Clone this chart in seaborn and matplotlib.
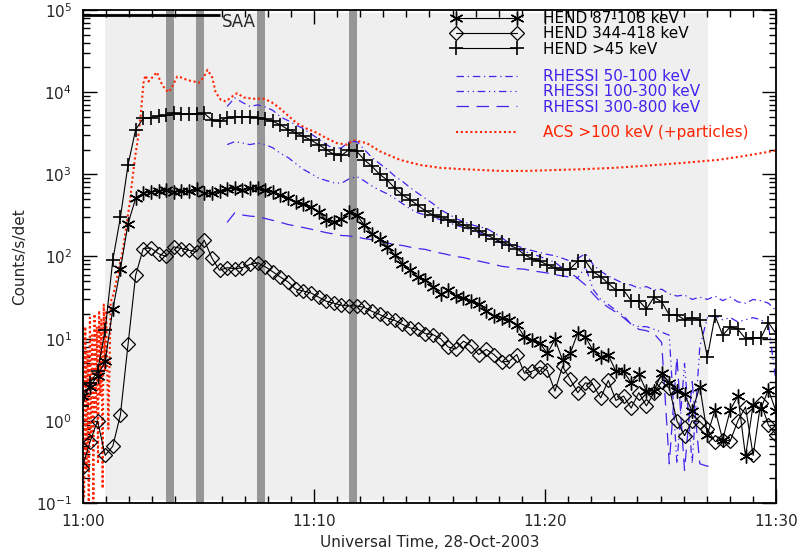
import numpy as np
import matplotlib
matplotlib.use("Agg")
import matplotlib.pyplot as plt
import seaborn as sns
from matplotlib.lines import Line2D
from matplotlib.ticker import MultipleLocator, FixedLocator, NullFormatter

# --------------------------------------------------
# THEME
# --------------------------------------------------
sns.set_style("ticks")
plt.rcParams['font.family'] = ['DejaVu Sans']
plt.rcParams['mathtext.fontset'] = 'dejavusans'

BLUE = '#4422ee'
RED = '#ff2200'

# --------------------------------------------------
# DATA  (time in minutes after 11:00 UT, counts/s/det)
# --------------------------------------------------
hend_start = -0.03   # first HEND sample
hend_step = 0.33     # HEND cadence (min)
n_hend = 92

hend_87_108 = [2.0, 2.6, 3.5, 5.3, 22.7, 70, 250, 510, 585, 610,
               620, 640, 610, 620, 620, 660, 590, 585, 620, 660,
               675, 650, 675, 675, 640, 610, 560, 510, 465, 440,
               400, 350, 277, 265, 282, 345, 320, 240, 190, 165,
               130, 104, 82, 68, 56, 52, 43, 34.6, 39, 33,
               31, 29, 26.6, 22, 19, 18, 16.7, 14.8, 10.5, 9.5,
               8.9, 6.6, 9.8, 5.5, 6.6, 11.8, 10.5, 7.2, 6.0, 6.3,
               4.0, 4.0, 2.9, 3.7, 2.3, 2.3, 3.8, 2.9, 2.3, 2.1,
               1.3, 2.6, 0.68, 1.36, 0.59, 1.36, 2.0, 0.37, 1.57, 1.39,
               2.4, 1.3]

hend_344_418 = [0.27, 0.55, 1.0, 0.38, 0.49, 1.18, 8.5, 59, 125, 127,
                108, 100, 131, 125, 119, 114, 158, 96, 68, 73,
                71, 73, 80, 84, 75, 65, 56, 49, 40, 38,
                36, 32, 28.5, 27, 25.5, 25, 25, 24, 21.5, 19.7,
                17.7, 16.7, 14.9, 13.5, 13, 11.5, 11.2, 10, 7.9, 7.5,
                9.3, 8.2, 6.4, 7.4, 6.4, 5.2, 5.3, 6.4, 3.8, 4.0,
                4.5, 4.1, 2.3, 4.6, 3.2, 2.2, 2.9, 2.75, 1.9, 3.1,
                1.77, 2.0, 1.43, 2.2, 1.52, 2.2, 3.0, 2.5, 1.0, 0.66,
                1.0, 0.98, 0.79, 0.56, 0.59, 0.57, 1.0, 1.47, 0.38, 1.67,
                0.89, 0.68]

hend_gt45 = [1.5, 2.9, 4.0, 12.6, 90, 300, 1300, 3500, 4800, 4900,
             5100, 5200, 5500, 5400, 5400, 5400, 5500, 4600, 4400, 4900,
             5000, 5000, 5000, 4900, 4700, 4400, 4000, 3500, 3200, 2900,
             2600, 2300, 2000, 1750, 1700, 2000, 1900, 1500, 1250, 1000,
             850, 680, 560, 490, 420, 360, 320, 300, 280, 260,
             240, 225, 205, 185, 165, 150, 138, 125, 105, 94,
             88, 79, 73, 68, 71, 88, 88, 65, 57, 47,
             39, 39, 29, 29, 23, 32, 28, 19.5, 19.5, 17,
             18, 16.7, 6.0, 19, 11, 14, 13, 10, 10.3, 10.2,
             15.7, 11.5]

# RHESSI starts with HEND sample 19 (11:06.2)
rhessi_first = 19
rhessi_50_100 = [6700, 8500, 7500, 6700, 7000, 6600, 6000, 5000, 4500, 4000,
                 3600, 3100, 2700, 2300, 2050, 2100, 2500, 2500, 2000, 1600,
                 1350, 1150, 950, 820, 690, 590, 510, 440, 370, 330,
                 290, 265, 245, 230, 220, 195, 170, 145, 135, 125,
                 118, 112, 106, 102, 95, 88, 95, 108, 80, 66,
                 58, 52, 47, 45, 41, 43, 39, 40, 35, 33,
                 34, 30, 32, 30, 33, 29, 32, 28, 27, 30,
                 29, 27, 22]
rhessi_100_300 = [2300, 2500, 2400, 2300, 2400, 2300, 2100, 1800, 1600, 1350,
                  1150, 1020, 900, 840, 790, 780, 880, 940, 830, 720,
                  640, 580, 510, 440, 380, 340, 320, 300, 280, 260,
                  240, 225, 210, 195, 180, 160, 145, 135, 125, 115,
                  108, 100, 92, 85, 72, 62, 55, 75, 40, 30,
                  26, 22, 19, 15, 14, 14, 13, 12, 11, 0.3,
                  5, 0.3, 8, 18, 19, 17, 18, 16, 17, 18,
                  17, 15, 3]
rhessi_300_800 = [260, 340, 320, 310, 305, 290, 275, 260, 245, 235,
                  225, 215, 205, 195, 188, 180, 178, 172, 165, 160,
                  152, 146, 140, 136, 130, 125, 122, 115, 110, 105,
                  100, 97, 92, 88, 84, 80, 76, 74, 71, 70,
                  67, 65, 63, 60, 58, 56, 54, 45, 35, 28,
                  24, 21, 18, 15, 13, 12.5, 11.5, 9, 0.3, 6,
                  0.25, 3, 0.3, 0.28, 0.3]

acs_time = [0.0, 0.05, 0.1, 0.15, 0.2, 0.25, 0.3, 0.35, 0.4, 0.45,
            0.5, 0.55, 0.6, 0.65, 0.7, 0.75, 0.8, 0.85, 0.9, 0.95,
            1.0, 1.1, 1.2, 1.31, 1.53, 1.74, 1.89, 2.03, 2.11, 2.25,
            2.4, 2.5, 2.55, 2.62, 2.7, 2.84, 2.99, 3.2, 3.35, 3.57,
            3.71, 3.86, 4.08, 4.29, 4.52, 4.8, 5.02, 5.24, 5.39, 5.6,
            5.74, 5.96, 6.18, 6.47, 6.68, 6.97, 7.4, 7.76, 8.12, 8.48,
            8.84, 9.25, 9.68, 10.12, 10.55, 10.98, 11.42, 11.7, 12.28, 12.86,
            13.72, 14.59, 15.45, 16.32, 17.19, 18.05, 19.2, 20.5, 21.5, 23.0,
            24.5, 26.0, 27.5, 28.5, 29.3, 30.0]
acs_counts = [9, 0.12, 14, 0.25, 7, 0.09, 18, 0.6, 11, 0.1,
              20, 1.2, 14, 0.3, 22, 2.0, 17, 0.15, 26, 4.0,
              22, 0.8, 28, 34, 65, 125, 250, 460, 740, 1570,
              3000, 5300, 7700, 13000, 16000, 13500, 15000, 17500, 13500, 10700,
              10000, 11600, 15500, 15000, 14000, 13500, 13000, 15500, 18700, 15000,
              10000, 8100, 7700, 8900, 9700, 8600, 8300, 8400, 7700, 6500,
              5300, 4200, 3600, 3200, 2750, 2400, 2300, 2600, 2400, 1900,
              1500, 1300, 1200, 1160, 1130, 1100, 1100, 1130, 1150, 1200,
              1280, 1380, 1500, 1650, 1800, 1950]

# shaded intervals (minutes after 11:00)
shade_start, shade_end = 0.95, 27.05
bar_centers = [3.77, 5.06, 7.71, 11.69]
bar_width = 0.34
saa_start, saa_end, saa_level = 0.0, 5.93, 8.6e4

x_ticks = [0, 10, 20, 30]
x_tick_labels = ['11:00', '11:10', '11:20', '11:30']
y_ticks = [1e-1, 1e0, 1e1, 1e2, 1e3, 1e4, 1e5]

legend_hend = ['HEND 87-108 keV', 'HEND 344-418 keV', 'HEND >45 keV']
legend_rhessi = ['RHESSI 50-100 keV', 'RHESSI 100-300 keV', 'RHESSI 300-800 keV']
legend_acs = ['ACS >100 keV (+particles)']

# --------------------------------------------------
# STYLES
# --------------------------------------------------
ast_kw = dict(color='k', lw=0.8, marker=(6, 2, 0), markersize=10,
              markeredgecolor='k', markeredgewidth=1.0)
dia_kw = dict(color='k', lw=0.8, marker='D', markersize=7.5,
              markerfacecolor='none', markeredgecolor='k', markeredgewidth=0.9)
plus_kw = dict(color='k', lw=0.8, marker='+', markersize=10,
               markeredgecolor='k', markeredgewidth=1.2)
r1_kw = dict(color=BLUE, lw=0.9, linestyle=(0, (6, 3, 1, 3)))
r2_kw = dict(color=BLUE, lw=0.9, linestyle=(0, (6, 3, 1, 3, 1, 3)))
r3_kw = dict(color=BLUE, lw=0.9, linestyle=(0, (10, 6)))
acs_kw = dict(color=RED, lw=1.5, linestyle=(0, (1, 1.3)))


def main():
    hend_time = hend_start + hend_step * np.arange(n_hend)
    r_time = hend_time[rhessi_first:]

    fig = plt.figure(figsize=(8.04, 5.58), dpi=100)
    ax = fig.add_axes([0.1032, 0.0986, 0.862, 0.8835])
    ax.set_yscale('log')
    ax.set_xlim(0, 30)
    ax.set_ylim(0.1, 1e5)

    # background shading + dark bars
    ax.axvspan(shade_start, shade_end, ymin=0.006, ymax=0.994,
               color='#efefef', lw=0, zorder=0)
    for c in bar_centers:
        ax.axvspan(c - bar_width / 2, c + bar_width / 2, color='#969696',
                   lw=0, zorder=1)

    # SAA marker
    ax.hlines(saa_level, saa_start, saa_end, color='k', lw=2, zorder=3)
    ax.text(saa_end + 0.08, saa_level * 0.82, 'SAA', fontsize=12,
            va='center', ha='left')

    # series
    sns.lineplot(x=acs_time, y=acs_counts, ax=ax, estimator=None, zorder=4, **acs_kw)
    sns.lineplot(x=r_time, y=rhessi_50_100, ax=ax, estimator=None, zorder=4, **r1_kw)
    sns.lineplot(x=r_time, y=rhessi_100_300, ax=ax, estimator=None, zorder=4, **r2_kw)
    sns.lineplot(x=r_time[:len(rhessi_300_800)], y=rhessi_300_800, ax=ax,
                 estimator=None, zorder=4, **r3_kw)
    sns.lineplot(x=hend_time, y=hend_344_418, ax=ax, estimator=None, zorder=5, **dia_kw)
    sns.lineplot(x=hend_time, y=hend_87_108, ax=ax, estimator=None, zorder=5, **ast_kw)
    sns.lineplot(x=hend_time, y=hend_gt45, ax=ax, estimator=None, zorder=5, **plus_kw)

    # axes
    ax.set_xticks(x_ticks, labels=x_tick_labels)
    ax.xaxis.set_minor_locator(MultipleLocator(1))
    ax.yaxis.set_major_locator(FixedLocator(y_ticks))
    minor_y = [m * d for d in y_ticks[:-1] for m in range(2, 10)]
    ax.yaxis.set_minor_locator(FixedLocator(minor_y))
    ax.yaxis.set_minor_formatter(NullFormatter())
    ax.set_ylim(0.1, 1e5)
    ax.tick_params(which='both', direction='in', top=True, right=True,
                   labelsize=11, width=1, color='k')
    ax.tick_params(which='major', length=10, pad=8)
    ax.tick_params(which='minor', length=5)
    for sp in ax.spines.values():
        sp.set_linewidth(1.3)
        sp.set_color('k')
        sp.set_zorder(10)

    ax.set_xlabel('Universal Time, 28-Oct-2003', fontsize=11, labelpad=4)
    ax.set_ylabel('Counts/s/det', fontsize=11, labelpad=6)

    # legends (three stacked blocks, like the original)
    common = dict(loc='upper left', frameon=False, fontsize=11, handlelength=4.6,
                  handletextpad=1.4, borderpad=0, borderaxespad=0, numpoints=2,
                  labelspacing=0.02)
    h1 = [Line2D([], [], **ast_kw), Line2D([], [], **dia_kw), Line2D([], [], **plus_kw)]
    leg1 = ax.legend(h1, legend_hend, bbox_to_anchor=(0.532, 0.998),
                     labelcolor='k', **common)
    ax.add_artist(leg1)
    h2 = [Line2D([], [], **r1_kw), Line2D([], [], **r2_kw), Line2D([], [], **r3_kw)]
    leg2 = ax.legend(h2, legend_rhessi, bbox_to_anchor=(0.532, 0.880),
                     labelcolor=BLUE, **common)
    ax.add_artist(leg2)
    h3 = [Line2D([], [], **acs_kw)]
    ax.legend(h3, legend_acs, bbox_to_anchor=(0.532, 0.767),
              labelcolor=RED, **common)

    fig.savefig('out.png', dpi=100)


if __name__ == "__main__":
    main()
